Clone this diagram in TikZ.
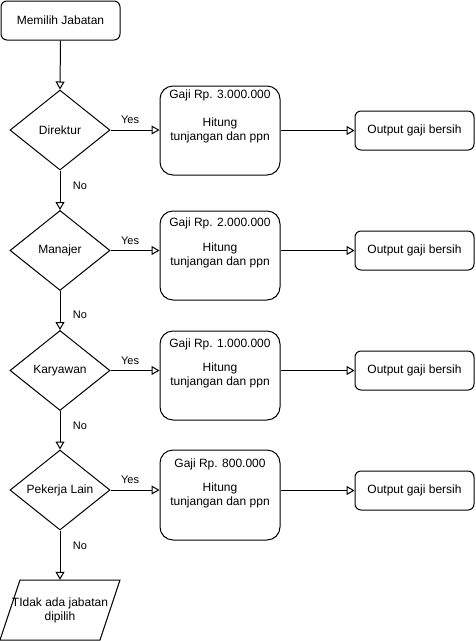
\documentclass[tikz,border=0pt]{standalone}
\usepackage{fontspec}
\setmainfont{Liberation Sans}
\usetikzlibrary{shapes.geometric,arrows.meta}
\begin{document}
\begin{tikzpicture}[x=1pt,y=-1pt,
  font=\fontsize{12}{14}\selectfont,
  box/.style={draw, line width=1pt, rounded corners=6pt, minimum width=119pt, minimum height=39pt, inner sep=0pt, align=center},
  bigbox/.style={draw, line width=1pt, rounded corners=13pt, minimum width=120pt, minimum height=89pt, inner sep=0pt, align=center},
  dec/.style={draw, line width=1pt, diamond, minimum width=100pt, minimum height=80pt, aspect=1.25, inner sep=0pt},
  arr/.style={-{Triangle[open,length=8pt,width=9pt]}, line width=1pt},
  lbl/.style={font=\fontsize{11}{13}\selectfont, inner sep=0pt}]
\useasboundingbox (0,0) rectangle (475,641);

\node[box] (start) at (60.5,20.5) {Memilih Jabatan};

\node[dec] (d1) at (60,130) {Direktur};
\node[dec] (d2) at (60,250.5) {Manajer};
\node[dec] (d3) at (60,370.5) {Karyawan};
\node[dec] (d4) at (60,490) {Pekerja Lain};

\node[bigbox] (b1) at (220,130.5) {Hitung\\tunjangan dan ppn};
\node[bigbox] (b2) at (220,255.5) {Hitung\\tunjangan dan ppn};
\node[bigbox] (b3) at (220,375.5) {Hitung\\tunjangan dan ppn};
\node[bigbox, minimum height=90pt] (b4) at (220,495) {Hitung\\tunjangan dan ppn};

\node (g1) at (220,95) {Gaji Rp. 3.000.000};
\node (g2) at (220,223) {Gaji Rp. 2.000.000};
\node (g3) at (220,344) {Gaji Rp. 1.000.000};
\node (g4) at (220,464) {Gaji Rp. 800.000};

\node[box] (o1) at (414.5,130.5) {Output gaji bersih};
\node[box] (o2) at (414.5,250.5) {Output gaji bersih};
\node[box] (o3) at (414.5,370.5) {Output gaji bersih};
\node[box] (o4) at (414.5,490.5) {Output gaji bersih};

\node[minimum height=60pt, minimum width=100pt, inner sep=0pt, align=center] (para) at (60,610) {TIdak ada jabatan\\dipilih};
\draw[line width=1pt] (0,640) -- (20,580) -- (120,580) -- (100,640) -- cycle;

\draw[arr] (start.south) -- (d1.north);
\draw[arr] (d1.south) -- node[lbl, pos=0.375, xshift=20pt] {No} (d2.north);
\draw[arr] (d2.south) -- node[lbl, pos=0.6, xshift=20pt] {No} (d3.north);
\draw[arr] (d3.south) -- node[lbl, pos=0.375, xshift=20pt] {No} (d4.north);
\draw[arr] (d4.south) -- node[lbl, pos=0.3, xshift=20pt] {No} (para.north);

\draw[arr] (d1.east) -- node[lbl, pos=0.4, yshift=10pt] {Yes} (d1.east -| b1.west);
\draw[arr] (d2.east) -- node[lbl, pos=0.4, yshift=10pt] {Yes} (d2.east -| b2.west);
\draw[arr] (d3.east) -- node[lbl, pos=0.4, yshift=10pt] {Yes} (d3.east -| b3.west);
\draw[arr] (d4.east) -- node[lbl, pos=0.4, yshift=10pt] {Yes} (d4.east -| b4.west);

\draw[arr] (o1.west -| b1.east) -- (o1.west);
\draw[arr] (o2.west -| b2.east) -- (o2.west);
\draw[arr] (o3.west -| b3.east) -- (o3.west);
\draw[arr] (o4.west -| b4.east) -- (o4.west);
\end{tikzpicture}
\end{document}
